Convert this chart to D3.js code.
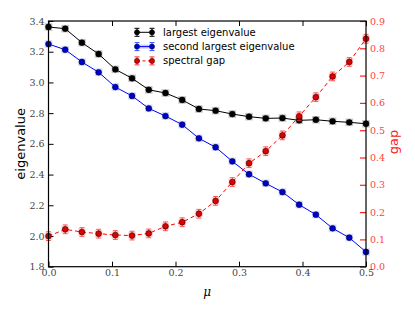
<!DOCTYPE html>
<html><head><meta charset="utf-8">
<script src="https://cdn.jsdelivr.net/npm/d3@7"></script>
<style>body{margin:0;background:#fff}svg{display:block}</style>
</head><body>
<script>
const mu = d3.range(20).map(i => i * 0.5 / 19);
const largest = [3.361,3.350,3.259,3.185,3.085,3.027,2.952,2.931,2.886,2.827,2.816,2.794,2.777,2.766,2.768,2.753,2.757,2.747,2.740,2.731];
const second  = [3.250,3.213,3.133,3.066,2.970,2.912,2.831,2.781,2.725,2.636,2.578,2.486,2.402,2.343,2.286,2.204,2.139,2.050,1.989,1.896];
const gap     = [0.112,0.137,0.127,0.121,0.116,0.114,0.122,0.148,0.163,0.194,0.241,0.310,0.379,0.423,0.481,0.551,0.621,0.697,0.750,0.835];
const errLargest = 0.012, errSecond = 0.012, errGap = 0.016;
const xTicks = [0.0,0.1,0.2,0.3,0.4,0.5];
const yTicks = [1.8,2.0,2.2,2.4,2.6,2.8,3.0,3.2,3.4];
const gTicks = [0.0,0.1,0.2,0.3,0.4,0.5,0.6,0.7,0.8,0.9];
const legendLabels = ["largest eigenvalue","second largest eigenvalue","spectral gap"];

const W = 415, H = 312;
const L = 48.5, R = 366, T = 21, B = 266.7;
const svg = d3.select("body").append("svg").attr("width", W).attr("height", H);
const x = d3.scaleLinear().domain([0,0.5]).range([L,R]);
const y = d3.scaleLinear().domain([1.8,3.4]).range([B,T]);
const g2 = d3.scaleLinear().domain([0,0.9]).range([B,T]);

const serif = "'DejaVu Serif','Liberation Serif',serif";
const sans = "'DejaVu Sans',sans-serif";

const tickLen = 5;
const ax = svg.append("g");
ax.append("g").attr("transform",`translate(${L},0)`)
  .call(d3.axisLeft(y).tickValues(yTicks).tickFormat(d3.format(".1f")).tickSizeInner(-tickLen).tickSizeOuter(0).tickPadding(4))
  .call(g=>{g.select(".domain").remove(); g.selectAll("line").attr("stroke","#000");
    g.selectAll("text").attr("font-family",serif).attr("font-size",9.5).attr("fill","#444");});
ax.append("g").attr("transform",`translate(0,${B})`)
  .call(d3.axisBottom(x).tickValues(xTicks).tickFormat(d3.format(".1f")).tickSizeInner(-tickLen).tickSizeOuter(0).tickPadding(3))
  .call(g=>{g.select(".domain").remove(); g.selectAll("line").attr("stroke","#000");
    g.selectAll("text").attr("font-family",serif).attr("font-size",9.5).attr("fill","#444");});
ax.append("g").attr("transform",`translate(0,${T})`)
  .call(d3.axisTop(x).tickValues(xTicks).tickFormat("").tickSizeInner(-tickLen).tickSizeOuter(0))
  .call(g=>{g.select(".domain").remove(); g.selectAll("line").attr("stroke","#000");});
ax.append("g").attr("transform",`translate(${R},0)`)
  .call(d3.axisRight(g2).tickValues(gTicks).tickFormat(d3.format(".1f")).tickSizeInner(-6).tickSizeOuter(0).tickPadding(4))
  .call(g=>{g.select(".domain").remove(); g.selectAll("line").attr("stroke","#ff2020").attr("stroke-width",1.2);
    g.selectAll("text").attr("font-family",serif).attr("font-size",9.5).attr("fill","#ff4040");});

const seriesDefs = [
  {vals: largest, err: errLargest, sc: y, color:"#000", fill:"#000", edge:"#000", dash:null, halo:"#000"},
  {vals: second, err: errSecond, sc: y, color:"#0000ff", fill:"#0000cc", edge:"#000033", dash:null, halo:"#3355ff"},
  {vals: gap, err: errGap, sc: g2, color:"#ff0000", fill:"#dd0000", edge:"#330000", dash:"4,3", halo:"#ff3030"}
];

const plot = svg.append("g");
seriesDefs.forEach(s => {
  const gg = plot.append("g");
  const line = d3.line().x((d,i)=>x(mu[i])).y(d=>s.sc(d));
  gg.append("path").datum(s.vals).attr("d",line).attr("fill","none")
    .attr("stroke",s.color).attr("stroke-width",1).attr("stroke-dasharray",s.dash);
  const pts = gg.selectAll("g.pt").data(s.vals).join("g")
    .attr("transform",(d,i)=>`translate(${x(mu[i])},0)`);
  pts.append("rect").attr("x",-3.8).attr("width",7.6).attr("y",d=>s.sc(d)-3.8).attr("height",7.6)
    .attr("fill",s.halo).attr("opacity",0.22);
  pts.append("line").attr("y1",d=>s.sc(d-s.err)).attr("y2",d=>s.sc(d+s.err))
    .attr("stroke",s.halo).attr("stroke-width",1).attr("opacity",0.75);
  [-1,1].forEach(sg => pts.append("line").attr("x1",-2.5).attr("x2",2.5)
    .attr("y1",d=>s.sc(d+sg*s.err)).attr("y2",d=>s.sc(d+sg*s.err))
    .attr("stroke",s.halo).attr("stroke-width",1).attr("opacity",0.8));
  pts.append("circle").attr("cy",d=>s.sc(d)).attr("r",2.9)
    .attr("fill",s.fill).attr("stroke",s.edge).attr("stroke-width",0.6);
});

svg.append("rect").attr("x",L).attr("y",T).attr("width",R-L).attr("height",B-T)
  .attr("fill","none").attr("stroke","#000").attr("stroke-width",1.2);

const lg = svg.append("g");
legendLabels.forEach((lab,i) => {
  const s = seriesDefs[i];
  const yy = 32.3 + i*14.3;
  const x1 = 137, x2 = 152;
  if (i===1) lg.append("line").attr("x1",x1).attr("x2",x2).attr("y1",yy).attr("y2",yy)
    .attr("stroke",s.halo).attr("stroke-width",4).attr("opacity",0.3);
  lg.append("line").attr("x1",x1).attr("x2",x2).attr("y1",yy).attr("y2",yy)
    .attr("stroke",s.color).attr("stroke-width",1).attr("stroke-dasharray",s.dash?"3,2.5":null);
  [x1,x2].forEach(xx => {
    lg.append("line").attr("x1",xx).attr("x2",xx).attr("y1",yy-4).attr("y2",yy+4).attr("stroke",s.halo);
    lg.append("line").attr("x1",xx-2.5).attr("x2",xx+2.5).attr("y1",yy-4).attr("y2",yy-4).attr("stroke",s.halo);
    lg.append("line").attr("x1",xx-2.5).attr("x2",xx+2.5).attr("y1",yy+4).attr("y2",yy+4).attr("stroke",s.halo);
    lg.append("circle").attr("cx",xx).attr("cy",yy).attr("r",2.6).attr("fill",s.fill).attr("stroke",s.edge).attr("stroke-width",0.5);
  });
  lg.append("text").attr("x",163).attr("y",yy+3.5).text(lab)
    .attr("font-family",sans).attr("font-size",10).attr("fill","#000");
});

svg.append("text").attr("transform",`translate(25,${(T+B)/2}) rotate(-90)`).attr("text-anchor","middle")
  .attr("font-family",sans).attr("font-size",13).text("eigenvalue");
svg.append("text").attr("transform",`translate(398,142) rotate(-90)`).attr("text-anchor","middle")
  .attr("font-family",sans).attr("font-size",13).attr("fill","#ff2020").text("gap");
svg.append("text").attr("x",(L+R)/2).attr("y",296).attr("text-anchor","middle")
  .attr("font-family",serif).attr("font-style","italic").attr("font-size",12).text("μ");
</script>
</body></html>
